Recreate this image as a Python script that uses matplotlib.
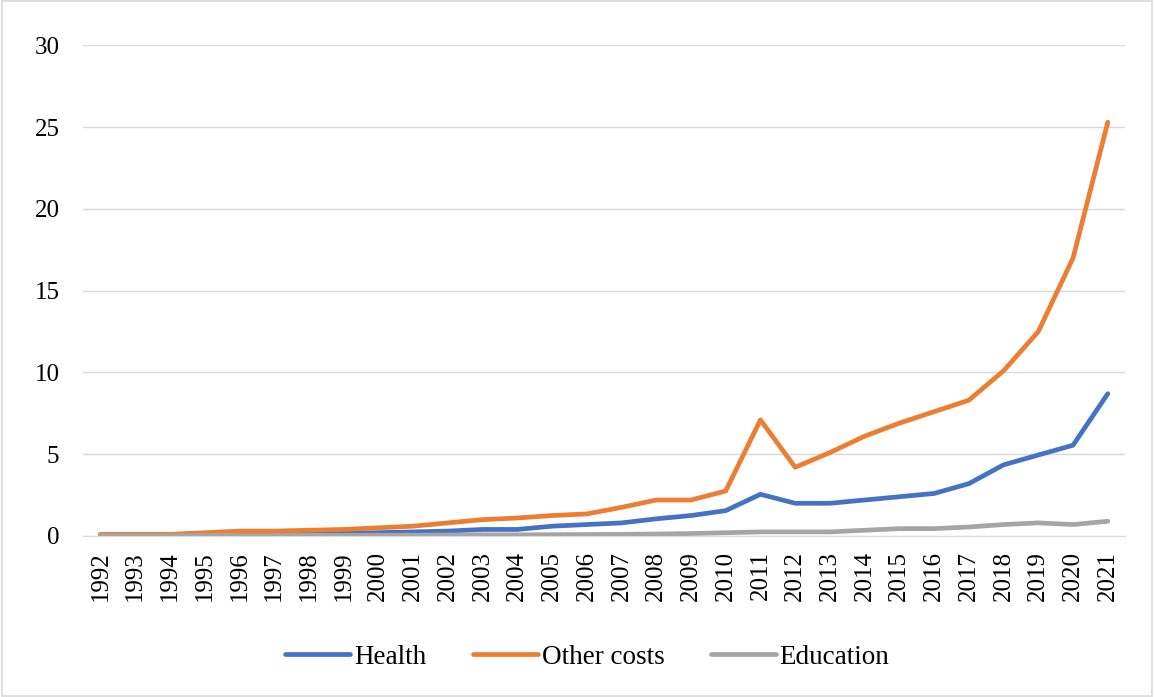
import numpy as np
import matplotlib.pyplot as plt
from matplotlib.patches import Rectangle

plt.rcParams['font.family'] = ['Liberation Serif', 'DejaVu Serif']

years = [str(y) for y in range(1992, 2022)]
health = [0.05, 0.05, 0.06, 0.08, 0.1, 0.12, 0.14, 0.16, 0.2, 0.25,
          0.3, 0.4, 0.4, 0.6, 0.7, 0.8, 1.05, 1.25, 1.55, 2.55,
          2.0, 2.0, 2.2, 2.4, 2.6, 3.2, 4.35, 4.95, 5.55, 8.7]
other = [0.1, 0.1, 0.1, 0.2, 0.3, 0.3, 0.35, 0.4, 0.5, 0.6,
         0.8, 1.0, 1.1, 1.25, 1.35, 1.75, 2.2, 2.2, 2.75, 7.1,
         4.2, 5.1, 6.1, 6.9, 7.6, 8.3, 10.1, 12.5, 17.0, 25.3]
education = [0.02, 0.02, 0.02, 0.03, 0.03, 0.03, 0.04, 0.04, 0.05, 0.05,
             0.06, 0.07, 0.07, 0.08, 0.09, 0.1, 0.12, 0.15, 0.2, 0.25,
             0.25, 0.25, 0.35, 0.45, 0.45, 0.55, 0.7, 0.8, 0.7, 0.9]

fig = plt.figure(figsize=(11.54, 6.97), dpi=100)
ax = fig.add_axes([0.072, 0.231, 0.903, 0.704])

x = np.arange(len(years))
ax.plot(x, health, color='#4472C4', lw=3.4, label='Health', solid_capstyle='round')
ax.plot(x, other, color='#ED7D31', lw=3.4, label='Other costs', solid_capstyle='round')
ax.plot(x, education, color='#A5A5A5', lw=3.4, label='Education', solid_capstyle='round')

ax.set_xlim(-0.5, len(years) - 0.5)
ax.set_ylim(0, 30)
ax.set_yticks(range(0, 31, 5))
ax.set_xticks(x)
ax.set_xticklabels(years, rotation=90)
ax.tick_params(axis='both', length=0, labelsize=18, colors='black')
ax.tick_params(axis='y', pad=17)
ax.tick_params(axis='x', pad=11)
ax.grid(axis='y', color='#D9D9D9', lw=1)
ax.set_axisbelow(True)
for side in ['top', 'right', 'left']:
    ax.spines[side].set_visible(False)
ax.spines['bottom'].set_color('#D9D9D9')

fig.legend(loc='center', bbox_to_anchor=(0.509, 0.057), ncol=3, frameon=False,
           fontsize=19.5, handlelength=2.4, columnspacing=1.7, handletextpad=0.15)

fig.patches.append(Rectangle((0.002, 0.002), 0.996, 0.996, transform=fig.transFigure,
                             fill=False, edgecolor='#D9D9D9', lw=1.2))

fig.savefig('out.png', dpi=100)
